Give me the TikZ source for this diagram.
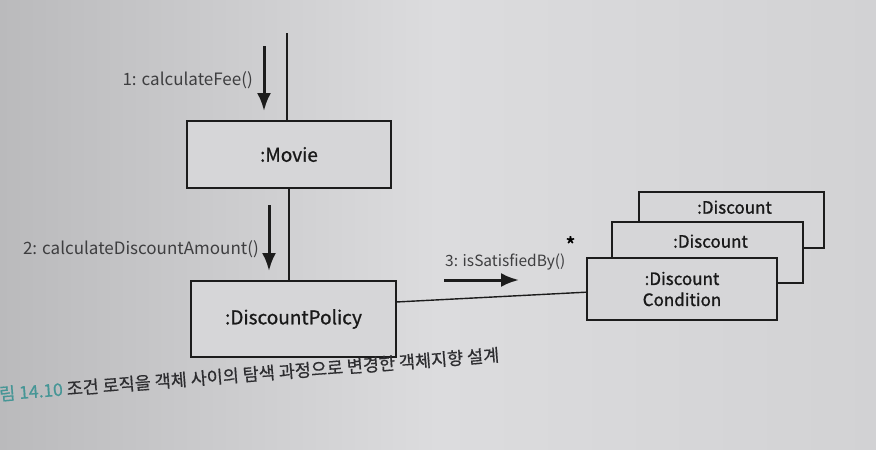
\documentclass[tikz,border=0pt]{standalone}
\usepackage{fontspec}
\setmainfont{Noto Sans CJK KR}
\newfontfamily\boxfont[FakeBold=1.0]{Noto Sans CJK KR}
\newfontfamily\capfont[FakeBold=0.6]{Noto Sans CJK KR}
\usetikzlibrary{arrows.meta,calc}
\definecolor{paperL}{RGB}{186,186,188}
\definecolor{paperM}{RGB}{220,220,222}
\definecolor{paperR}{RGB}{210,210,212}
\definecolor{boxfill}{RGB}{214,214,216}
\definecolor{inkline}{RGB}{28,28,28}
\definecolor{msgtext}{RGB}{62,62,64}
\definecolor{captext}{RGB}{45,45,48}
\definecolor{teal14}{RGB}{70,150,150}
\tikzset{
  objbox/.style={draw=inkline, line width=1.4pt, fill=boxfill, rectangle, inner sep=0pt,
    font=\boxfont\fontsize{19}{22}\selectfont, text=black!90, align=center},
  msglabel/.style={font=\fontsize{17}{20}\selectfont, text=msgtext, inner sep=0pt},
  link/.style={draw=inkline, line width=1.4pt},
  msgarrow/.style={draw=inkline, line width=3pt, -{Latex[length=18pt,width=14pt]}},
  stacklabel/.style={font=\boxfont\fontsize{17}{20}\selectfont, text=black!90, inner sep=0pt}
}
\begin{document}
\begin{tikzpicture}[x=1pt,y=-1pt]
\useasboundingbox (0,0) rectangle (876,450);
\shade[left color=paperL, right color=paperR, middle color=paperM] (0,0) rectangle (876,450);

% objects
\node[objbox, minimum width=204pt, minimum height=67pt] (movie) at (289,154.5) {:Movie};
\node[objbox, minimum width=205pt, minimum height=76pt] (policy) at (293.5,319) {:DiscountPolicy};

\node[objbox, minimum width=185pt, minimum height=56pt] (dback) at (731.5,220) {};
\node[stacklabel, anchor=north] (dbacklabel) at ($(dback.north)+(3,9)$) {:Discount};
\node[objbox, minimum width=191pt, minimum height=61pt] (dmid) at (707.5,252.5) {};
\node[stacklabel, anchor=north] (dmidlabel) at ($(dmid.north)+(3,13)$) {:Discount};
\node[objbox, minimum width=190pt, minimum height=62pt, font=\boxfont\fontsize{17}{21}\selectfont] (dfront) at (682,289) {:Discount\\Condition};

% lifelines / links
\coordinate (ltop) at (287,33);
\draw[link] (ltop) -- (ltop |- movie.north);
\draw[link] (movie.south) -- (movie.south |- policy.north);
\draw[link] ($(policy.north east)!0.28!(policy.south east)$) -- ($(dfront.north west)!0.55!(dfront.south west)$);

% messages
\coordinate (a1s) at (264,46);
\coordinate (a1e) at (264,111);
\draw[msgarrow] (a1s) -- (a1e);
\node[msglabel, anchor=east] (m1) at (253,80) {1: calculateFee()};

\coordinate (a2s) at (269,205);
\coordinate (a2e) at (269,271);
\draw[msgarrow] (a2s) -- (a2e);
\node[msglabel, anchor=east] (m2) at (259,249) {2: calculateDiscountAmount()};

\coordinate (a3s) at (444,280);
\coordinate (a3e) at (519,280);
\draw[msgarrow] (a3s) -- (a3e);
\node[msglabel, anchor=west, font=\fontsize{15.5}{18}\selectfont] (m3) at (445,253) {3: isSatisfiedBy()\raisebox{1.5ex}{\textcolor{black}{\boxfont\fontsize{22}{22}\selectfont *}}};

% caption
\node[anchor=west, rotate=4.5, inner sep=0pt, font=\capfont\fontsize{17.5}{21}\selectfont, text=captext] (caption) at (-1,394)
  {\textcolor{teal14}{림 14.10} 조건 로직을 객체 사이의 탐색 과정으로 변경한 객체지향 설계};
\end{tikzpicture}
\end{document}
